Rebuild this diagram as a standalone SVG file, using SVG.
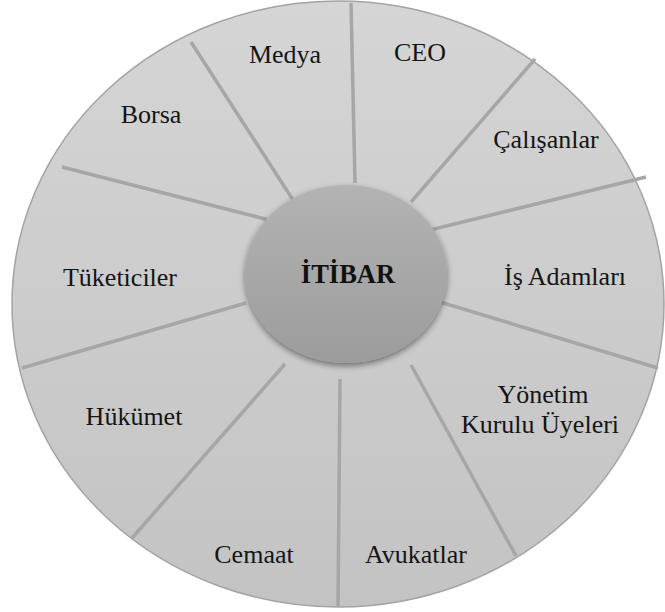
<svg xmlns="http://www.w3.org/2000/svg" width="665" height="612" viewBox="0 0 665 612">
  <defs>
    <linearGradient id="discFill" x1="0" y1="0" x2="0" y2="1">
      <stop offset="0" stop-color="#d5d5d5"/>
      <stop offset="1" stop-color="#c3c3c3"/>
    </linearGradient>
    <linearGradient id="hubFill" x1="0" y1="0" x2="0" y2="1">
      <stop offset="0" stop-color="#b3b3b3"/>
      <stop offset="1" stop-color="#9c9c9c"/>
    </linearGradient>
    <filter id="hubShadow" x="-20%" y="-20%" width="140%" height="150%">
      <feDropShadow dx="0" dy="3" stdDeviation="3" flood-color="#000" flood-opacity="0.45"/>
    </filter>
    <style>
      .divider { stroke: #a6a6a6; stroke-width: 3.5; fill: none; }
      .label { font-family: "Liberation Serif", "Times New Roman", serif; font-size: 26px; fill: #141414; text-anchor: middle; }
      .hub-label { font-family: "Liberation Serif", "Times New Roman", serif; font-size: 26.5px; font-weight: bold; fill: #111; text-anchor: middle; }
    </style>
  </defs>

  <!-- outer disc -->
  <g id="disc">
    <ellipse cx="338" cy="304" rx="326" ry="303" fill="url(#discFill)" stroke="#a3a3a3" stroke-width="1.5"/>
  </g>

  <!-- spokes between the segments -->
  <g id="connectors">
    <line class="divider" x1="191" y1="42" x2="293" y2="200"/>
    <line class="divider" x1="351" y1="3" x2="355" y2="183"/>
    <line class="divider" x1="535" y1="59" x2="411" y2="202"/>
    <line class="divider" x1="646" y1="177" x2="430" y2="230"/>
    <line class="divider" x1="658" y1="368" x2="440" y2="302"/>
    <line class="divider" x1="516" y1="556" x2="411" y2="365"/>
    <line class="divider" x1="338" y1="606" x2="340" y2="379"/>
    <line class="divider" x1="132" y1="538" x2="285" y2="364"/>
    <line class="divider" x1="22" y1="368" x2="246" y2="303"/>
    <line class="divider" x1="62" y1="167" x2="273" y2="221"/>
  </g>

  <!-- segment labels -->
  <g id="medya"><text class="label" x="285" y="63">Medya</text></g>
  <g id="ceo"><text class="label" x="420" y="61">CEO</text></g>
  <g id="borsa"><text class="label" x="151" y="123">Borsa</text></g>
  <g id="calisanlar"><text class="label" x="546" y="148">Çalışanlar</text></g>
  <g id="tuketiciler"><text class="label" x="120" y="286">Tüketiciler</text></g>
  <g id="is-adamlari"><text class="label" x="565" y="285">İş Adamları</text></g>
  <g id="hukumet"><text class="label" x="134" y="425">Hükümet</text></g>
  <g id="yonetim-kurulu">
    <text class="label" x="543" y="403">Yönetim</text>
    <text class="label" x="540" y="433">Kurulu Üyeleri</text>
  </g>
  <g id="cemaat"><text class="label" x="254" y="563">Cemaat</text></g>
  <g id="avukatlar"><text class="label" x="416" y="563">Avukatlar</text></g>

  <!-- central hub -->
  <g id="itibar">
    <ellipse cx="346" cy="274" rx="101" ry="89" fill="url(#hubFill)" filter="url(#hubShadow)"/>
    <text class="hub-label" x="348" y="283">İTİBAR</text>
  </g>
</svg>
